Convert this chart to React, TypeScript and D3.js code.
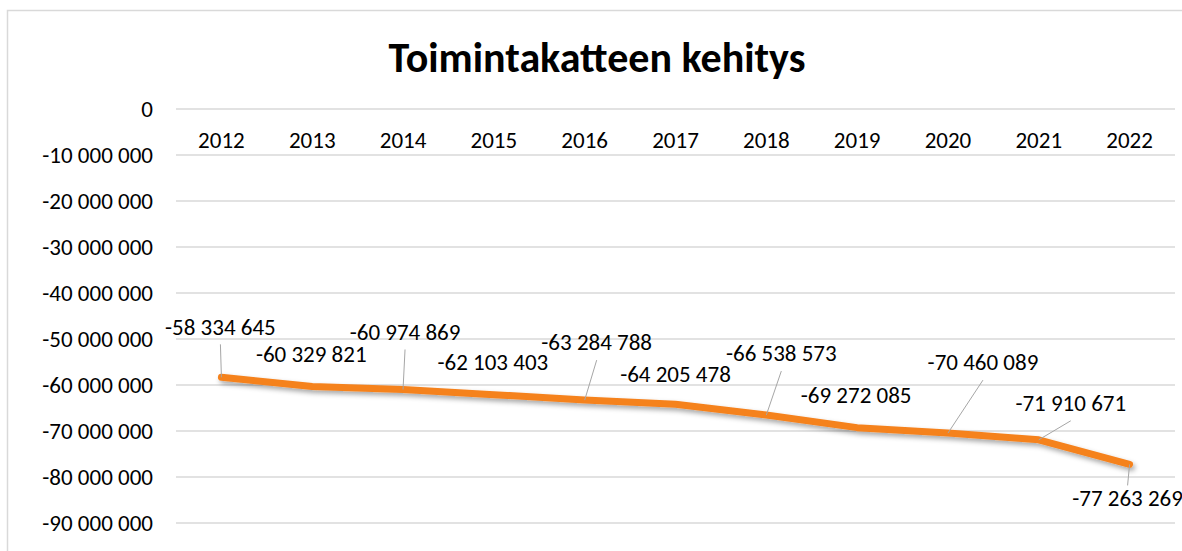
import * as d3 from 'd3';

// data
const years = ['2012', '2013', '2014', '2015', '2016', '2017', '2018', '2019', '2020', '2021', '2022'];
const values = [
  -58334645, -60329821, -60974869, -62103403, -63284788, -64205478, -66538573, -69272085, -70460089,
  -71910671, -77263269,
];
const yTicks = [0, -10000000, -20000000, -30000000, -40000000, -50000000, -60000000, -70000000, -80000000, -90000000];

// where each data label sits relative to its point (dx, dy) and whether it gets a leader line
const labelDx = [-1, -1, 2, -1, 12, 0, 15, -1, 35, 32, -2];
const labelDy = [-51, -33, -58, -33, -58, -31, -62, -33, -71, -37, 33];
const hasLeader = [true, false, true, false, true, false, true, false, true, true, true];

const W = 1182;
const H = 551;
const FONT = 'Calibri, Carlito, Lato, sans-serif';
const FS = 23;

const fi = d3.formatLocale({ decimal: ',', thousands: ' ', grouping: [3], currency: ['', ''], minus: '-' });
const fmt = fi.format(',d');

export default function App() {
  const x = d3.scaleBand<string>().domain(years).range([176, 1175]);
  const y = d3.scaleLinear().domain([0, -90000000]).range([109, 523]);
  const cx = (yr: string) => (x(yr) as number) + x.bandwidth() / 2;

  const line = d3
    .line<number>()
    .x((d, i) => cx(years[i]))
    .y((d) => y(d));

  return (
    <svg width={W} height={H} style={{ position: 'absolute', left: 0, top: 0, background: '#fff' }}>
      <defs>
        <filter id="shadow" x="-5%" y="-50%" width="110%" height="200%">
          <feDropShadow dx="2" dy="3" stdDeviation="2.5" floodColor="#000" floodOpacity="0.35" />
        </filter>
      </defs>
      <rect x={7.5} y={10.5} width={1250} height={650} fill="#fff" stroke="#d9d9d9" strokeWidth={1.5} />

      <text x={597} y={72} textAnchor="middle" fontFamily={FONT} fontWeight="bold" fontSize={42} fill="#000">
        Toimintakatteen kehitys
      </text>

      {/* gridlines + y axis labels */}
      {yTicks.map((t) => (
        <g key={t}>
          <line x1={176} x2={1175} y1={y(t)} y2={y(t)} stroke="#d9d9d9" strokeWidth={1.5} />
          <text x={153} y={y(t)} dy="0.36em" textAnchor="end" fontFamily={FONT} fontSize={FS} fill="#000">
            {fmt(t)}
          </text>
        </g>
      ))}

      {/* category labels under the zero line */}
      {years.map((yr) => (
        <text key={yr} x={cx(yr)} y={148} textAnchor="middle" fontFamily={FONT} fontSize={FS} fill="#000">
          {yr}
        </text>
      ))}

      <path
        d={line(values) || ''}
        fill="none"
        stroke="#f5821f"
        strokeWidth={7}
        strokeLinejoin="round"
        strokeLinecap="round"
        filter="url(#shadow)"
      />

      {/* data labels with leader lines */}
      {values.map((v, i) => {
        const px = cx(years[i]);
        const py = y(v);
        const lx = px + labelDx[i];
        const ly = py + labelDy[i];
        const endY = labelDy[i] < 0 ? ly + 18 : ly - 12;
        return (
          <g key={years[i]}>
            {hasLeader[i] && <line x1={px} y1={py} x2={lx} y2={endY} stroke="#a6a6a6" strokeWidth={1} />}
            <text x={lx} y={ly} dy="0.36em" textAnchor="middle" fontFamily={FONT} fontSize={FS} fill="#000">
              {fmt(v)}
            </text>
          </g>
        );
      })}
    </svg>
  );
}
